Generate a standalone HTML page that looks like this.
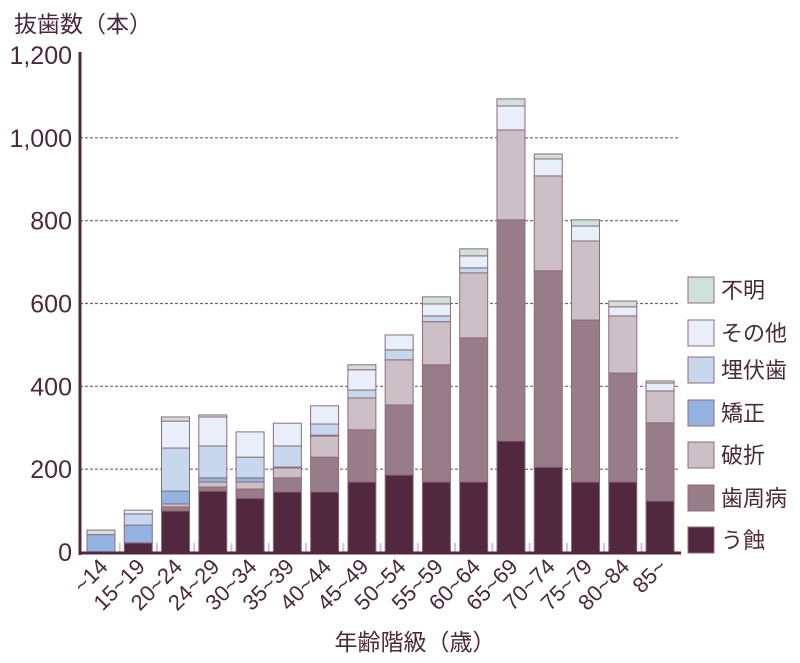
<!DOCTYPE html>
<html><head><meta charset="utf-8"><style>
body{margin:0;background:#fff;}
svg text{font-family:"Liberation Sans","Noto Sans CJK JP",sans-serif;fill:#4a2a3a;}
</style></head><body>
<svg id="c" width="800" height="658" xmlns="http://www.w3.org/2000/svg"></svg>
<script>
const categories=["~14","15~19","20~24","24~29","30~34","35~39","40~44","45~49","50~54","55~59","60~64","65~69","70~74","75~79","80~84","85~"];
const seriesNames=["う蝕","歯周病","破折","矯正","埋伏歯","その他","不明"];
const caries=[0,22,99,147,130,145,145,169,186,169,169,268,205,169,169,123];
const perio=[0,0,10,10,22,34,84,126,169,283,348,534,474,391,263,189];
const fracture=[0,0,7,12,17,24,51,77,109,104,157,217,229,191,138,77];
const ortho=[42,43,31,10,10,2,2,0,0,0,0,0,0,0,0,0];
const impacted=[0,27,104,77,50,51,27,19,24,14,12,0,0,0,0,0];
const other=[0,9,65,70,61,55,44,49,36,29,29,58,41,36,22,19];
const unknown=[11,0,10,5,0,0,0,12,0,17,17,17,12,15,14,5];
const yTicks=[0,200,400,600,800,1000,1200];
const yTickLabels=["0","200","400","600","800","1,000","1,200"];
const colors=["#52283e","#987d89","#cdbfc6","#93b4e0","#c7d8ee","#e9eff8","#d0e1dc"];
const series=[caries,perio,fracture,ortho,impacted,other,unknown];
const svg=document.getElementById('c');
const NS="http://www.w3.org/2000/svg";
const y0=552,pxPer=(552-55)/1200;
const Y=v=>y0-v*pxPer;
const X=i=>101+i*37.27;
function mk(t,a,p){const e=document.createElementNS(NS,t);for(const k in a)e.setAttribute(k,a[k]);(p||svg).appendChild(e);return e;}
// grid
yTicks.forEach((v,i)=>{
 if(v>0&&v<1200){const g=mk('line',{x1:80,x2:680,y1:Y(v),y2:Y(v),stroke:'#8a5a6a','stroke-width':1.2,'stroke-dasharray':'3,2'});
 
 }
 const t=mk('text',{x:72,y:Y(v)+9,'text-anchor':'end','font-size':25});t.textContent=yTickLabels[i];
 
 
});
// bars
categories.forEach((c,i)=>{
 let acc=0;
 series.forEach((s,k)=>{
  const v=s[i];if(v<=0)return;
  const r=mk('rect',{x:X(i)-14,y:Y(acc+v),width:28,height:v*pxPer,fill:colors[k],stroke:'#8c6c7e','stroke-width':1});
  
  
  acc+=v;
 });
 if(i>0){const tk=mk('line',{x1:X(i)-18.6,x2:X(i)-18.6,y1:543,y2:552,stroke:'#d4c4cc','stroke-width':2});
 
 }
 const t=mk('text',{x:0,y:0,'text-anchor':'end','font-size':22,transform:`translate(${X(i)+8},${568}) rotate(-45)`});
 t.textContent=c;
 
 
});
// axes
const ya=mk('line',{x1:80,x2:80,y1:52,y2:555,stroke:'#52283e','stroke-width':3});


const xa=mk('line',{x1:79,x2:681,y1:553,y2:553,stroke:'#52283e','stroke-width':3});


const yt=mk('text',{x:14,y:32,'font-size':23});yt.textContent="抜歯数（本）";


const xt=mk('text',{x:415,y:650,'text-anchor':'middle','font-size':23});xt.textContent="年齢階級（歳）";


// legend
const legY=[540,498,455,413,370,333,290];
seriesNames.forEach((n,k)=>{
 const g=mk('g',{});
 
 
 mk('rect',{x:688,y:legY[k]-13,width:26,height:26,fill:colors[k],stroke:'#8c6c7e','stroke-width':1},g);
 const t=mk('text',{x:721,y:legY[k]+8,'font-size':22},g);t.textContent=n;
});
</script>
</body></html>
